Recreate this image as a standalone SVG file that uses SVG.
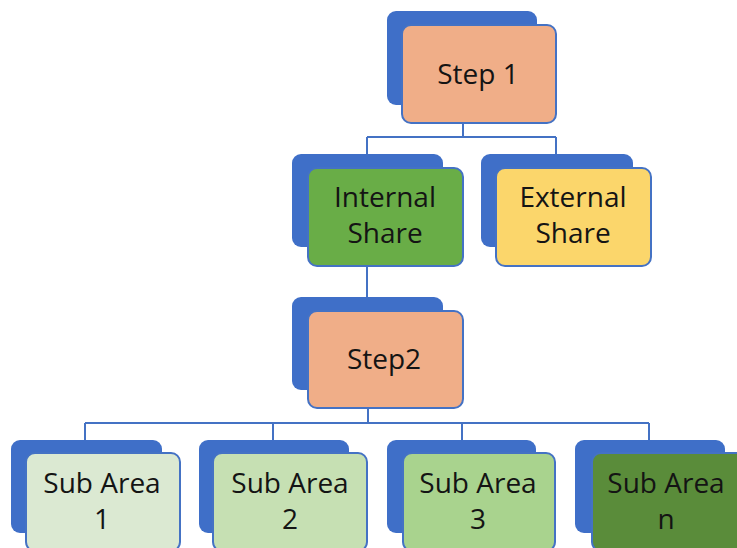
<svg xmlns="http://www.w3.org/2000/svg" width="737" height="548" viewBox="0 0 737 548">
  <style>
    .back { fill: #3f6fc8; }
    .front { stroke: #4472c4; stroke-width: 2; }
    .wire { fill: none; stroke: #4472c4; stroke-width: 2; }
    .label { font-family: "Open Sans", "Noto Sans", sans-serif; font-size: 28px; fill: #141414; text-anchor: middle; }
  </style>
  <rect width="737" height="548" fill="#ffffff"/>

  <!-- connectors -->
  <g id="connectors">
    <path class="wire" d="M463,123 V137 M367,137 H556 M367,137 V154 M556,137 V154"/>
    <path class="wire" d="M367,266 V298"/>
    <path class="wire" d="M368,408 V423 M85,423 H649 M85,423 V441 M273,423 V441 M462,423 V441 M649,423 V441"/>
  </g>

  <g id="step1">
    <rect class="back" x="387" y="11" width="150" height="94" rx="9"/>
    <rect class="front" x="402" y="25" width="154" height="98" rx="9" fill="#f0ae88"/>
    <text class="label" x="478" y="84">Step 1</text>
  </g>

  <g id="internal-share">
    <rect class="back" x="292" y="154" width="151" height="93" rx="9"/>
    <rect class="front" x="308" y="168" width="155" height="98" rx="9" fill="#69ad47"/>
    <text class="label" x="385" y="207">Internal</text>
    <text class="label" x="385" y="243">Share</text>
  </g>

  <g id="external-share">
    <rect class="back" x="481" y="154" width="152" height="93" rx="9"/>
    <rect class="front" x="496" y="168" width="155" height="98" rx="9" fill="#fbd66b"/>
    <text class="label" x="573" y="207">External</text>
    <text class="label" x="573" y="243">Share</text>
  </g>

  <g id="step2">
    <rect class="back" x="292" y="297" width="151" height="93" rx="9"/>
    <rect class="front" x="308" y="311" width="155" height="97" rx="9" fill="#f0ae88"/>
    <text class="label" x="384" y="369">Step2</text>
  </g>

  <g id="sub-area-1">
    <rect class="back" x="11" y="440" width="151" height="93" rx="9"/>
    <rect class="front" x="26" y="453" width="154" height="98" rx="9" fill="#dbe9d2"/>
    <text class="label" x="102" y="493">Sub Area</text>
    <text class="label" x="102" y="529">1</text>
  </g>

  <g id="sub-area-2">
    <rect class="back" x="199" y="440" width="150" height="93" rx="9"/>
    <rect class="front" x="213" y="453" width="154" height="98" rx="9" fill="#c6e0b3"/>
    <text class="label" x="290" y="493">Sub Area</text>
    <text class="label" x="290" y="529">2</text>
  </g>

  <g id="sub-area-3">
    <rect class="back" x="387" y="440" width="149" height="93" rx="9"/>
    <rect class="front" x="403" y="453" width="152" height="98" rx="9" fill="#a9d38e"/>
    <text class="label" x="478" y="493">Sub Area</text>
    <text class="label" x="478" y="529">3</text>
  </g>

  <g id="sub-area-n">
    <rect class="back" x="575" y="440" width="150" height="93" rx="9"/>
    <rect class="front" x="592" y="453" width="154" height="98" rx="9" fill="#5a8c3a"/>
    <text class="label" x="666" y="493">Sub Area</text>
    <text class="label" x="666" y="529">n</text>
  </g>
</svg>
